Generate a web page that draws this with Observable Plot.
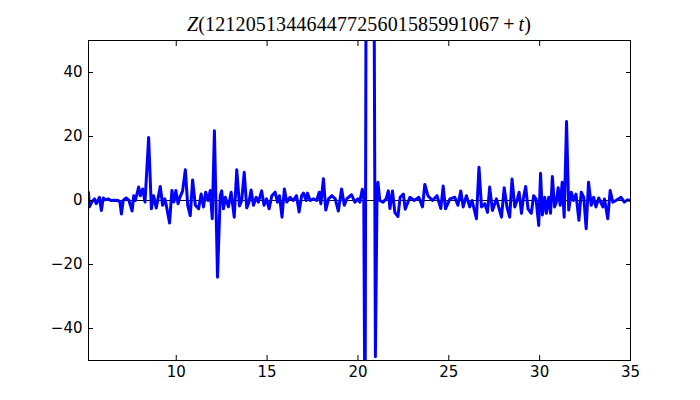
<!DOCTYPE html>
<html><head><meta charset="utf-8">
<script src="https://cdn.jsdelivr.net/npm/d3@7"></script>
<script src="https://cdn.jsdelivr.net/npm/@observablehq/plot@0.6"></script>
<style>body{margin:0;background:#fff}</style>
</head><body><div id="chart"></div>
<script>
const tValues = [5.17,5.22,5.35,5.5,5.6,5.77,5.88,5.98,6.1,6.25,6.4,6.6,6.8,6.9,6.98,7.08,7.24,7.4,7.57,7.66,7.75,7.93,8.02,8.15,8.28,8.48,8.63,8.75,8.9,9.12,9.25,9.37,9.47,9.63,9.76,9.87,9.98,10.1,10.2,10.35,10.5,10.63,10.77,10.9,11.05,11.23,11.37,11.5,11.62,11.75,11.87,11.98,12.1,12.27,12.42,12.5,12.6,12.7,12.87,13.02,13.19,13.33,13.48,13.6,13.74,13.88,14.0,14.12,14.25,14.4,14.52,14.7,14.83,14.97,15.11,15.26,15.44,15.57,15.68,15.82,15.95,16.08,16.26,16.44,16.62,16.76,16.9,17.0,17.15,17.22,17.37,17.55,17.73,17.87,17.96,18.1,18.23,18.38,18.56,18.75,18.92,19.1,19.25,19.38,19.65,19.83,20.0,20.1,20.24,20.32,20.39,20.45,20.67,20.88,20.96,21.05,21.1,21.2,21.38,21.55,21.67,21.76,21.9,22.03,22.2,22.32,22.5,22.6,22.86,23.1,23.35,23.55,23.68,23.85,24.1,24.35,24.56,24.69,24.82,25.06,25.33,25.5,25.66,25.79,25.97,26.15,26.28,26.52,26.66,26.8,26.98,27.13,27.25,27.4,27.62,27.9,28.05,28.2,28.35,28.48,28.63,28.78,28.87,29.0,29.1,29.23,29.36,29.54,29.67,29.8,29.95,30.05,30.15,30.28,30.37,30.5,30.6,30.7,30.82,30.92,31.02,31.13,31.24,31.35,31.48,31.6,31.74,31.87,32.0,32.16,32.29,32.43,32.56,32.69,32.84,32.97,33.1,33.25,33.48,33.57,33.75,33.88,34.03,34.2,34.48,34.66,34.85,35.0];
const zValues = [2.5,-2.0,-0.5,0.5,-1.0,1.0,-3.1,0.8,0.2,0.5,0.0,0.1,0.0,-0.5,-4.2,0.0,0.8,0.0,-3.3,1.5,0.0,4.2,1.5,3.6,-0.5,19.7,-2.6,1.5,-2.3,4.4,-1.5,0.5,-2.0,-7.0,3.1,-0.5,3.1,-1.0,1.0,3.0,9.6,-1.5,-4.7,6.4,-1.5,-2.6,2.0,-2.0,2.6,0.0,3.1,-5.7,21.8,-24.0,1.5,3.0,-2.6,1.0,-2.0,2.6,-5.2,9.6,-1.7,0.0,8.8,-2.3,-0.5,3.3,-1.5,1.0,-0.5,3.0,-1.5,0.5,-2.6,1.5,2.6,-0.5,1.5,-5.2,3.6,-0.5,1.0,0.0,1.5,-3.6,1.5,2.3,0.0,2.3,0.0,0.5,0.0,2.6,-1.0,6.8,-3.0,0.5,1.5,0.5,-3.3,3.6,-1.5,0.5,1.8,-0.5,0.5,-0.5,3.5,1.0,-80,80,150,80,-48.8,2.0,5.7,0.0,-0.5,0.5,3.0,-2.5,3.0,-3.7,-5.0,1.0,2.0,-2.7,1.0,0.0,1.0,-2.0,5.0,1.5,0.0,1.5,-2.5,4.5,-2.6,0.5,1.0,-1.5,3.0,-2.0,1.5,-2.0,0.0,-5.7,10.4,-2.0,-1.0,-3.7,4.2,-3.1,0.5,-5.2,4.0,-2.0,-5.2,6.7,-2.0,0.5,2.6,-4.0,0.5,4.4,-2.6,-4.0,1.5,0.5,-7.8,8.5,-4.5,1.0,-4.0,1.0,-4.0,7.5,-2.0,-0.5,4.0,-1.5,5.7,-5.2,24.7,-3.0,2.6,0.0,2.0,-6.2,2.6,1.0,-8.8,5.7,-1.5,1.0,-2.0,0.8,-2.0,0.5,-5.7,3.1,-0.5,0.0,1.0,-0.5,0.2,0.0];
const xTicks = [10, 15, 20, 25, 30, 35];
const yTicks = [-40, -20, 0, 20, 40];
const titleNumber = "12120513446447725601585991067";

const data = tValues.map((t, i) => ({t, z: zValues[i]}));
const fmt = d => d < 0 ? "\u2212" + Math.abs(d) : String(d);

const chart = Plot.plot({
  width: 700, height: 400,
  marginLeft: 88, marginRight: 70, marginTop: 40, marginBottom: 40,
  style: {fontFamily: "DejaVu Sans", fontSize: "15px", background: "#fff", color: "black"},
  x: {domain: [5.17, 35]},
  y: {domain: [-50, 50]},
  marks: [
    Plot.ruleY([0], {stroke: "black", strokeWidth: 1}),
    Plot.line(data, {x: "t", y: "z", stroke: "#0000ff", strokeWidth: 3, clip: true}),
    Plot.frame({stroke: "black", strokeWidth: 1}),
    Plot.axisX(xTicks, {anchor: "bottom", tickSize: -5, tickPadding: 11, tickFormat: fmt, label: null}),
    Plot.axisX(xTicks, {anchor: "top", tickSize: -5, tickFormat: () => "", label: null}),
    Plot.axisY(yTicks, {anchor: "left", tickSize: -5, tickPadding: 11, tickFormat: fmt, label: null}),
    Plot.axisY(yTicks, {anchor: "right", tickSize: -5, tickFormat: () => "", label: null})
  ]
});
document.getElementById("chart").appendChild(chart);

const svg = d3.select(chart.tagName.toLowerCase() === "svg" ? chart : chart.querySelector("svg"));
const title = svg.append("text")
  .attr("x", 359).attr("y", 31)
  .attr("text-anchor", "middle")
  .attr("font-family", "Liberation Serif, DejaVu Serif, serif")
  .attr("font-size", 20)
  .attr("fill", "black")
  .attr("textLength", 344)
  .attr("lengthAdjust", "spacing");
title.append("tspan").attr("font-style", "italic").text("Z");
title.append("tspan").text("(" + titleNumber);
title.append("tspan").attr("dx", 4).text("+");
title.append("tspan").attr("dx", 4).attr("font-style", "italic").text("t");
title.append("tspan").text(")");
</script></body></html>
